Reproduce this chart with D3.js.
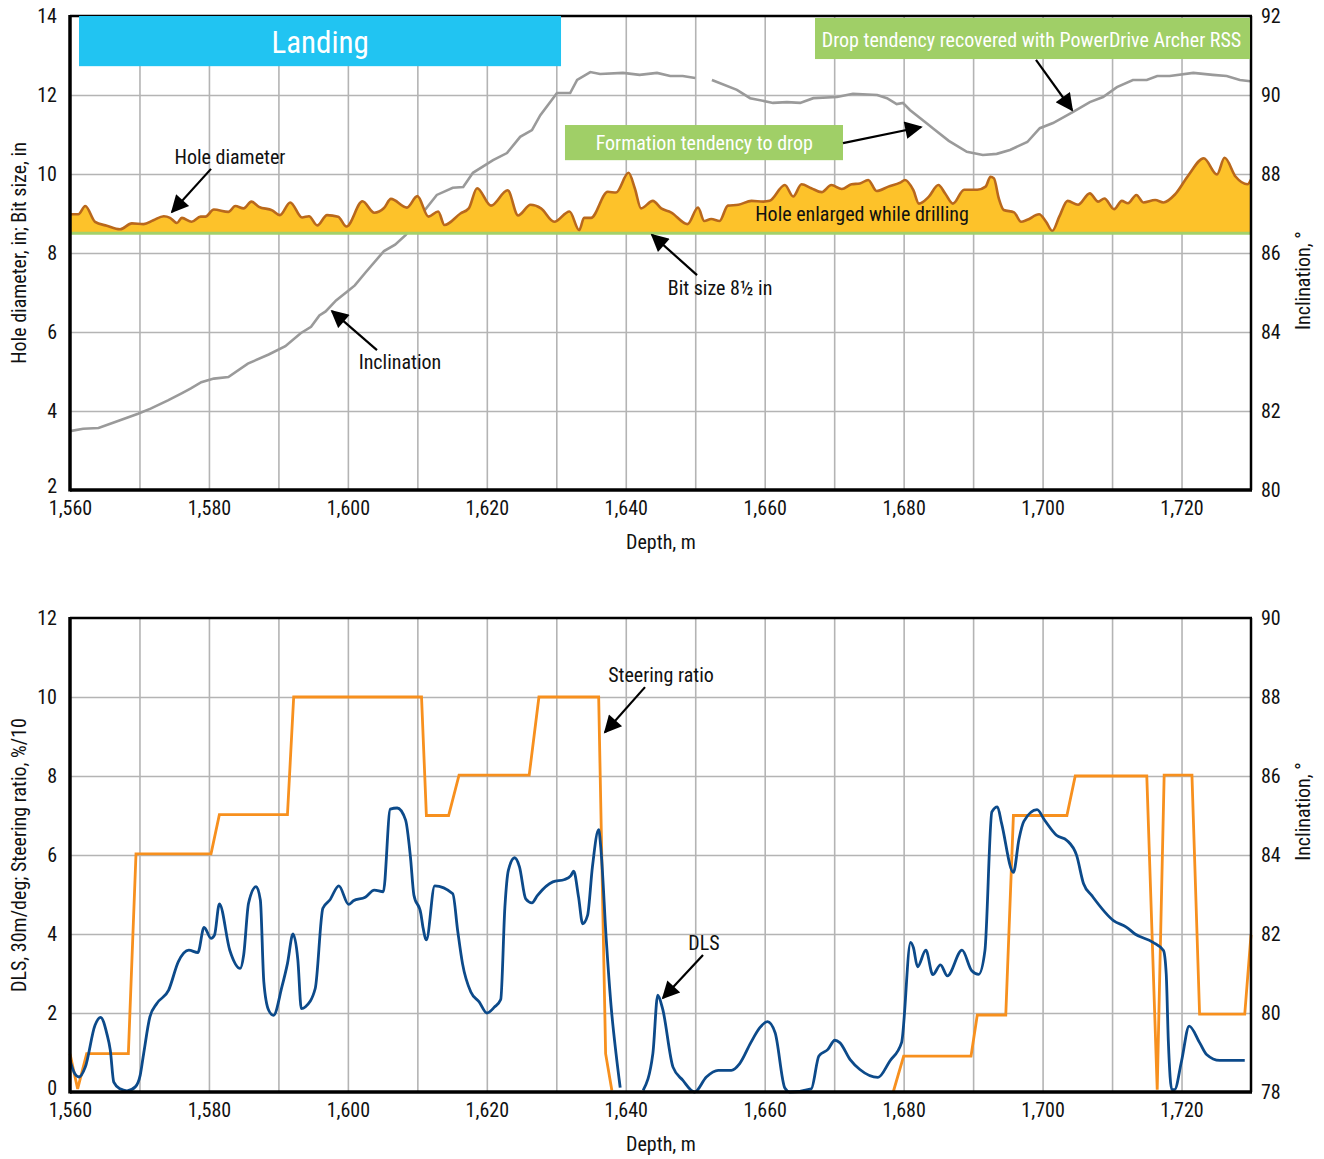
<!DOCTYPE html>
<html><head><meta charset="utf-8">
<script src="https://cdn.jsdelivr.net/npm/d3@7"></script>
<style>
body{margin:0;background:#fff;}
svg text{font-family:"Liberation Sans Narrow","Roboto Condensed","DejaVu Sans Condensed",sans-serif;}
</style></head>
<body><svg id="c" width="1324" height="1159"></svg>
<script>
// ---------- DATA ----------
const depthTicks = [1560,1580,1600,1620,1640,1660,1680,1700,1720];
const depthGrid = [1570,1580,1590,1600,1610,1620,1630,1640,1650,1660,1670,1680,1690,1700,1710,1720];
const topLeftTicks = [2,4,6,8,10,12,14];
const topRightTicks = [80,82,84,86,88,90,92];
const botLeftTicks = [0,2,4,6,8,10,12];
const botRightTicks = [78,80,82,84,86,88,90];
const bitSize = 8.5;

// Hole diameter, in  [depth m, value]
const holeDiameter = [
[1560,8.98],[1561.2,8.98],[1562.2,9.19],[1563.6,8.79],[1565.3,8.69],[1567.2,8.60],[1568.9,8.75],[1570.6,8.73],
[1572.0,8.83],[1573.5,8.93],[1574.4,8.89],[1575.4,8.76],[1576.1,8.89],[1577.5,8.79],[1578.8,8.92],[1579.5,8.92],
[1580.7,9.10],[1582.8,9.04],[1583.8,9.19],[1585.0,9.13],[1586.1,9.30],[1587.2,9.17],[1589.1,9.08],[1590.2,8.96],
[1591.7,9.28],[1593.4,8.90],[1594.4,8.93],[1595.6,8.70],[1597.0,8.96],[1598.6,8.92],[1599.8,8.67],[1602.1,9.31],
[1603.8,9.02],[1605.2,9.14],[1606.2,9.37],[1608.5,9.15],[1610.0,9.44],[1611.6,8.92],[1613.0,9.05],[1613.9,8.71],
[1616.2,9.00],[1617.4,9.13],[1618.6,9.64],[1620.6,9.20],[1623.0,9.59],[1624.5,8.95],[1626.3,9.22],[1627.8,9.13],
[1629.7,8.79],[1631.9,9.05],[1633.3,8.58],[1634.0,8.89],[1635.0,8.89],[1637.4,9.55],[1638.6,9.53],[1640.4,10.03],
[1641.3,9.64],[1642.2,9.13],[1643.9,9.32],[1645.1,9.13],[1646.5,9.03],[1648.9,8.73],[1650.4,9.15],[1651.3,8.81],
[1652.3,8.86],[1653.5,8.81],[1654.7,9.20],[1656.2,9.22],[1658.1,9.32],[1659.8,9.30],[1660.7,9.32],[1662.9,9.72],
[1664.1,9.43],[1665.3,9.74],[1666.7,9.64],[1668.2,9.54],[1669.6,9.72],[1671.1,9.62],[1672.5,9.74],[1673.7,9.76],
[1674.9,9.85],[1676.1,9.57],[1677.8,9.68],[1679.5,9.78],[1680.2,9.85],[1681.4,9.59],[1682.2,9.25],[1683.6,9.42],
[1685.0,9.72],[1686.0,9.50],[1687.1,9.25],[1688.7,9.60],[1690.6,9.60],[1691.8,9.68],[1692.5,9.93],[1693.0,9.89],
[1693.7,9.38],[1694.4,9.09],[1695.9,9.03],[1696.9,8.79],[1697.8,8.84],[1699.5,8.98],[1700.5,8.79],[1701.4,8.56],
[1702.4,8.92],[1703.6,9.32],[1705.1,9.22],[1706.8,9.51],[1708.0,9.30],[1708.9,9.38],[1710.3,9.11],[1711.4,9.32],
[1712.3,9.26],[1713.5,9.47],[1714.5,9.28],[1716.2,9.34],[1717.4,9.28],[1719.1,9.49],[1721.0,9.97],[1723.2,10.40],
[1725.1,9.99],[1726.2,10.41],[1727.8,9.93],[1729.5,9.74],[1730,9.86]
];

// Inclination, deg (top chart, right axis); null = gap
const inclination = [
[1560,81.49],[1561.9,81.55],[1564.1,81.57],[1566.2,81.70],[1569.8,81.93],[1571.6,82.06],[1574.1,82.27],[1576.2,82.46],
[1577.4,82.57],[1578.9,82.73],[1580.7,82.82],[1582.8,82.86],[1585.6,83.20],[1588.6,83.43],[1591.0,83.64],[1593.2,83.97],
[1594.7,84.13],[1595.9,84.42],[1596.8,84.52],[1598.3,84.80],[1600.1,85.05],[1601.0,85.18],[1602.6,85.52],[1605.2,86.05],
[1606.8,86.21],[1608.3,86.45],[1611.4,87.16],[1612.8,87.47],[1615.1,87.65],[1616.6,87.67],[1618.0,88.03],[1620.9,88.35],
[1622.9,88.53],[1624.8,88.94],[1626.5,89.11],[1627.7,89.49],[1630.1,90.05],[1632.0,90.05],[1633.0,90.38],[1634.9,90.58],
[1636.3,90.53],[1639.6,90.56],[1642.0,90.51],[1644.5,90.56],[1646.4,90.48],[1648.2,90.48],[1650.0,90.43],[1651.2,null],
[1652.4,90.38],[1656.0,90.13],[1657.9,89.92],[1661.2,89.80],[1663.2,89.82],[1665.1,89.80],[1667.0,89.92],[1670.4,89.95],
[1672.7,90.03],[1676.2,90.00],[1677.6,89.92],[1679.0,89.77],[1679.9,89.80],[1680.9,89.62],[1683.4,89.27],[1684.2,89.16],
[1686.5,88.84],[1689.1,88.56],[1691.4,88.48],[1693.4,88.51],[1695.3,88.61],[1697.8,88.81],[1699.6,89.16],[1701.5,89.29],
[1704.4,89.57],[1706.8,89.82],[1708.7,89.95],[1710.7,90.20],[1713.0,90.38],[1715.0,90.38],[1716.5,90.48],[1718.3,90.48],
[1721.7,90.56],[1724.5,90.51],[1726.5,90.48],[1728.4,90.38],[1729.9,90.35]
];

// Steering ratio, %/10 (bottom chart)
const steeringRatio = [
[1560,0.97],[1561.1,0.08],[1562.4,0.97],[1568.4,0.97],[1569.5,6.03],[1580.3,6.03],[1581.5,7.02],[1591.3,7.02],
[1592.2,10.0],[1610.6,10.0],[1611.3,7.0],[1614.5,7.0],[1616.0,8.02],[1626.1,8.02],[1627.5,10.0],[1636.1,10.0],
[1637.1,0.97],[1638.0,0.04],[1660,null],[1678.5,0],[1680.0,0.91],[1689.7,0.91],[1690.6,1.95],[1694.7,1.95],
[1695.8,7.0],[1703.5,7.0],[1704.7,8.0],[1715.0,8.0],[1716.5,0.06],[1717.5,8.02],[1721.5,8.02],[1722.6,1.97],
[1729.1,1.97],[1730,3.98]
];

// DLS, deg/30 m (bottom chart)
const dls = [
[1560,0.80],[1560.7,0.46],[1561.3,0.38],[1562.2,0.63],[1563.6,1.69],[1564.4,1.89],[1565.3,1.48],[1565.8,1.06],
[1566.3,0.25],[1567.2,0.08],[1568.2,0.03],[1569.4,0.13],[1570.1,0.42],[1570.6,0.97],[1571.5,1.90],[1572.5,2.24],
[1574.2,2.58],[1575.6,3.30],[1577.1,3.59],[1578.4,3.53],[1579.3,4.17],[1580.3,3.89],[1580.8,3.97],[1581.5,4.76],
[1583.0,3.59],[1584.5,3.13],[1585.0,3.47],[1585.7,4.78],[1586.8,5.20],[1587.4,4.86],[1587.9,2.79],[1588.6,2.07],
[1589.3,1.94],[1590.5,2.66],[1591.3,3.25],[1592.1,4.00],[1592.8,3.34],[1593.3,2.11],[1593.9,2.16],[1595.3,2.62],
[1596.4,4.65],[1597.4,4.86],[1598.7,5.22],[1600.1,4.75],[1600.8,4.84],[1602.5,4.93],[1603.8,5.11],[1605.1,5.07],
[1606.1,7.16],[1607.1,7.19],[1608.3,6.89],[1609.0,5.96],[1609.5,4.99],[1610.5,4.52],[1610.8,4.18],[1611.3,3.85],
[1612.5,5.22],[1615.1,5.02],[1615.8,4.09],[1616.5,3.25],[1617.7,2.53],[1618.9,2.28],[1620.0,2.00],[1621.1,2.15],
[1622.0,2.34],[1622.6,4.68],[1623.1,5.61],[1624.0,5.93],[1624.7,5.70],[1625.6,4.89],[1626.5,4.79],[1627.3,4.98],
[1629.5,5.32],[1631.2,5.38],[1632.1,5.48],[1632.5,5.59],[1633.2,4.94],[1633.8,4.26],[1634.5,4.47],[1635.2,5.70],
[1636.1,6.64],[1636.4,6.20],[1637.2,3.84],[1637.9,2.15],[1638.6,0.97],[1639.2,0.11],[1640.8,null],
[1642.5,0.04],[1643.9,0.97],[1644.6,2.45],[1645.3,2.11],[1646.8,0.63],[1648.2,0.30],[1649.9,0.0],[1651.6,0.38],
[1653.3,0.55],[1655.2,0.55],[1656.4,0.72],[1658.0,1.25],[1659.3,1.63],[1660.4,1.78],[1661.5,1.50],[1662.9,0.10],
[1663.6,0.0],[1666.7,0.08],[1667.8,0.91],[1669.1,1.08],[1670.1,1.31],[1670.8,1.25],[1672.3,0.82],[1673.7,0.57],
[1676.3,0.37],[1678.0,0.78],[1679.7,1.25],[1681.0,3.79],[1681.4,3.66],[1682.0,3.17],[1683.2,3.59],[1684.2,2.97],
[1685.3,3.22],[1686.3,2.94],[1688.4,3.59],[1689.8,3.07],[1690.8,2.98],[1691.7,3.58],[1692.7,7.09],[1693.5,7.22],
[1694.1,6.80],[1695.8,5.56],[1696.6,6.40],[1697.3,6.85],[1699.2,7.15],[1700.3,6.88],[1702.0,6.50],[1703.5,6.37],
[1704.9,5.99],[1705.9,5.27],[1707.1,4.97],[1710.2,4.34],[1712.1,4.17],[1713.3,4.00],[1715.9,3.79],[1717.4,3.58],
[1717.8,2.98],[1718.1,1.29],[1718.6,0.06],[1719.0,0.06],[1720.0,0.78],[1721.1,1.67],[1722.6,1.25],[1723.6,0.95],
[1725.5,0.80],[1729.1,0.80]
];

// ---------- DRAW ----------
const svg = d3.select("#c");
const FONT = 20;
const x = d3.scaleLinear().domain([1560,1730]).range([70,1251]);
const yT = d3.scaleLinear().domain([2,14]).range([490,16]);
const yTR = d3.scaleLinear().domain([80,92]).range([490,16]);
const yB = d3.scaleLinear().domain([0,12]).range([1092,618]);
const yBR = d3.scaleLinear().domain([78,90]).range([1092,618]);

const defs = svg.append("defs");
defs.append("marker").attr("id","ah").attr("viewBox","0 0 10 10").attr("refX",9).attr("refY",5)
  .attr("markerWidth",9).attr("markerHeight",8).attr("markerUnits","strokeWidth").attr("orient","auto")
  .append("path").attr("d","M0,0 L10,5 L0,10 z").attr("fill","#000");

function panel(yL, yR, leftTicks, rightTicks, leftTitle, rightTitle, rightTitleY) {
  const [y0,y1] = yL.range(); // bottom, top
  const g = svg.append("g");
  g.append("g").attr("transform",`translate(0,${y0})`)
    .call(d3.axisBottom(x).tickValues(depthGrid).tickSize(-(y0-y1)).tickFormat(""))
    .call(s=>{s.select(".domain").remove(); s.selectAll("line").attr("stroke","#b4b4b4").attr("stroke-width",1.6);});
  g.append("g").attr("transform",`translate(70,0)`)
    .call(d3.axisLeft(yL).tickValues(leftTicks.slice(1,-1)).tickSize(-(1251-70)).tickFormat(""))
    .call(s=>{s.select(".domain").remove(); s.selectAll("line").attr("stroke","#b4b4b4").attr("stroke-width",1.6);});
  g.append("g").attr("transform",`translate(0,${y0})`)
    .call(d3.axisBottom(x).tickValues(depthTicks).tickSize(0).tickPadding(11).tickFormat(d3.format(",")))
    .call(s=>{s.select(".domain").remove(); s.selectAll("text").attr("font-size",FONT).attr("fill","#111");});
  g.append("g").attr("transform",`translate(70,0)`)
    .call(d3.axisLeft(yL).tickValues(leftTicks).tickSize(0).tickPadding(13))
    .call(s=>{s.select(".domain").remove(); s.selectAll("text").attr("font-size",FONT).attr("fill","#111")
      .attr("dy",d=>d===leftTicks[0]?"0.1em":"0.32em");});
  g.append("g").attr("transform",`translate(1251,0)`)
    .call(d3.axisRight(yR).tickValues(rightTicks).tickSize(0).tickPadding(10))
    .call(s=>{s.select(".domain").remove(); s.selectAll("text").attr("font-size",FONT).attr("fill","#111");});
  g.selectAll("g[font-family]").attr("font-family",null).attr("font-size",null);
  g.append("text").attr("x",661).attr("y",y0+59).attr("text-anchor","middle").attr("font-size",FONT).attr("fill","#111").text("Depth, m");
  g.append("text").attr("transform",`translate(26,${(y0+y1)/2}) rotate(-90)`).attr("text-anchor","middle")
    .attr("font-size",FONT).attr("fill","#111").text(leftTitle);
  g.append("text").attr("transform",`translate(1310,${rightTitleY}) rotate(-90)`).attr("text-anchor","middle")
    .attr("font-size",FONT).attr("fill","#111").text(rightTitle);
  return g;
}
function frame(yL) {
  const [y0,y1] = yL.range();
  const f = svg.append("g").attr("fill","none").attr("stroke","#000");
  f.append("line").attr("x1",70).attr("x2",1252).attr("y1",y1).attr("y2",y1).attr("stroke-width",2.5);
  f.append("line").attr("x1",1251).attr("x2",1251).attr("y1",y1).attr("y2",y0).attr("stroke-width",2.5);
  f.append("line").attr("x1",70).attr("x2",1252).attr("y1",y0).attr("y2",y0).attr("stroke-width",3.5);
  f.append("line").attr("x1",70).attr("x2",70).attr("y1",y1-1).attr("y2",y0+1.5).attr("stroke-width",3.5);
}

// ---- top panel ----
panel(yT, yTR, topLeftTicks, topRightTicks, "Hole diameter, in; Bit size, in", "Inclination, °", yTR(85.3));

const incLine = d3.line().defined(d=>d[1]!==null).x(d=>x(d[0])).y(d=>yTR(d[1]));
svg.append("path").datum(inclination).attr("d",incLine).attr("fill","none").attr("stroke","#9a9a9a").attr("stroke-width",2.6);

const area = d3.area().x(d=>x(d[0])).y0(yT(bitSize)).y1(d=>yT(d[1])).curve(d3.curveMonotoneX);
svg.append("path").datum(holeDiameter).attr("d",area).attr("fill","#fdc22a");
svg.append("path").datum(holeDiameter).attr("d",area.lineY1()).attr("fill","none").attr("stroke","#b9681c").attr("stroke-width",2.6).attr("stroke-linejoin","round");
svg.append("line").attr("x1",x(1560)).attr("x2",x(1730)).attr("y1",yT(bitSize)).attr("y2",yT(bitSize)).attr("stroke","#a3d16a").attr("stroke-width",3);

frame(yT);

function box(d0,d1,v0,v1,fill,label,size,tx,ty,ys){
  svg.append("rect").attr("x",x(d0)).attr("y",ys(v1)).attr("width",x(d1)-x(d0)).attr("height",ys(v0)-ys(v1)).attr("fill",fill);
  svg.append("text").attr("x",x(tx)).attr("y",ys(ty)).attr("text-anchor","middle").attr("dominant-baseline","central")
    .attr("font-size",size).attr("fill","#fff").text(label);
}
box(1561.3,1630.68,12.73,14,"#21c4f2","Landing",31,1596.0,13.34,yT);
box(1631.25,1671.27,10.35,11.24,"#a0cf67","Formation tendency to drop",20,1651.3,10.78,yT);
box(1667.24,1729.86,12.91,13.95,"#a0cf67","Drop tendency recovered with PowerDrive Archer RSS",20,1698.4,13.39,yT);

function note(label, tx, ty, a0, a1, b0, b1, ys){
  svg.append("text").attr("x",x(tx)).attr("y",ys(ty)).attr("text-anchor","middle").attr("dominant-baseline","central")
    .attr("font-size",FONT).attr("fill","#111").text(label);
  if (a0!==null) svg.append("line").attr("x1",x(a0)).attr("y1",ys(a1)).attr("x2",x(b0)).attr("y2",ys(b1))
    .attr("stroke","#000").attr("stroke-width",2.2).attr("marker-end","url(#ah)");
}
note("Hole diameter",1583.03,10.43,1580.3,10.13,1574.68,9.04,yT);
note("Inclination",1607.5,5.24,1604.19,5.54,1597.71,6.53,yT);
note("Bit size 8½ in",1653.57,7.11,1650.26,7.44,1643.78,8.46,yT);
note("Hole enlarged while drilling",1674.01,8.99,null,null,null,null,yT);
svg.append("line").attr("x1",x(1671.27)).attr("y1",yT(10.78)).attr("x2",x(1682.5)).attr("y2",yT(11.19))
  .attr("stroke","#000").attr("stroke-width",2.2).attr("marker-end","url(#ah)");
svg.append("line").attr("x1",x(1699.05)).attr("y1",yT(12.89)).attr("x2",x(1704.24)).attr("y2",yT(11.62))
  .attr("stroke","#000").attr("stroke-width",2.2).attr("marker-end","url(#ah)");

// ---- bottom panel ----
panel(yB, yBR, botLeftTicks, botRightTicks, "DLS, 30m/deg; Steering ratio, %/10", "Inclination, °", yBR(85.1));
const srLine = d3.line().defined(d=>d[1]!==null).x(d=>x(d[0])).y(d=>yB(d[1]));
svg.append("path").datum(steeringRatio).attr("d",srLine).attr("fill","none").attr("stroke","#f7901e").attr("stroke-width",2.8);
const dlsLine = d3.line().defined(d=>d[1]!==null).x(d=>x(d[0])).y(d=>yB(d[1])).curve(d3.curveMonotoneX);
svg.append("path").datum(dls).attr("d",dlsLine).attr("fill","none").attr("stroke","#0c4a8a").attr("stroke-width",2.8);
frame(yB);
note("Steering ratio",1645.07,10.56,1642.77,10.25,1637.01,9.11,yB);
note("DLS",1651.26,3.77,1651.12,3.47,1645.36,2.38,yB);
</script></body></html>
